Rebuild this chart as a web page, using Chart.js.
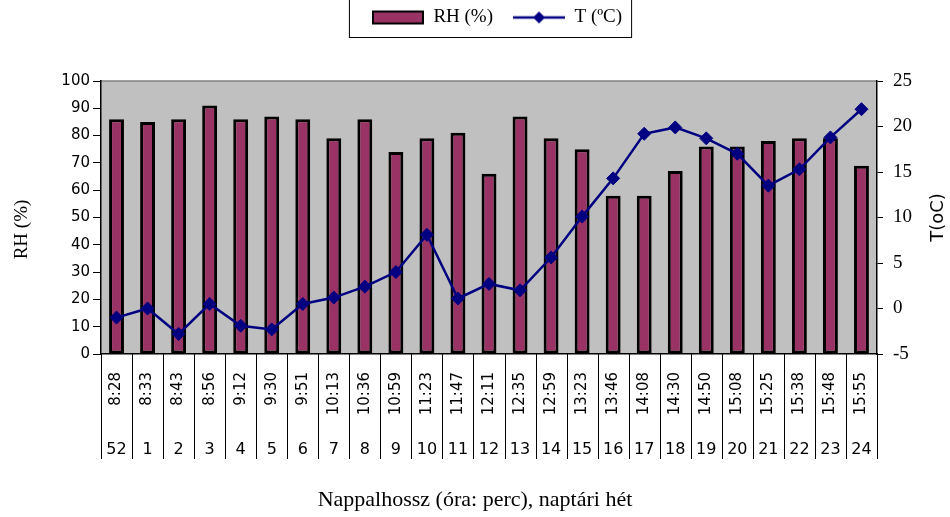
<!DOCTYPE html>
<html lang="hu">
<head>
<meta charset="UTF-8">
<title>RH és T</title>
<script src="https://cdn.jsdelivr.net/npm/chart.js"></script>
<style>
  html, body { margin: 0; padding: 0; background: #fff; }
  #wrap { width: 950px; height: 517px; }
</style>
</head>
<body>
<div id="wrap"><canvas id="rhChart"></canvas></div>
<script>
// napi nappalhossz (óra:perc) és naptári hét
const dayLength = ['8:28', '8:33', '8:43', '8:56', '9:12', '9:30', '9:51', '10:13', '10:36', '10:59',
    '11:23', '11:47', '12:11', '12:35', '12:59', '13:23', '13:46', '14:08', '14:30', '14:50',
    '15:08', '15:25', '15:38', '15:48', '15:55'];
const weeks = ['52', '1', '2', '3', '4', '5', '6', '7', '8', '9', '10', '11', '12', '13', '14', '15',
    '16', '17', '18', '19', '20', '21', '22', '23', '24'];
const rhValues = [86, 85, 86, 91, 86, 87, 86, 79, 86, 74, 79, 81, 66, 87, 79, 75, 58, 58, 67, 76,
    76, 78, 79, 79, 69];
const tempValues = [-1.0, 0.0, -2.8, 0.5, -1.9, -2.3, 0.5, 1.2, 2.4, 4.0, 8.1, 1.1, 2.7, 2.0, 5.6,
    10.1, 14.3, 19.2, 19.9, 18.7, 17.0, 13.5, 15.3, 18.8, 21.9];
const rhTicks = { min: 0, max: 100, step: 10 };
const tTicks = { min: -5, max: 25, step: 5 };

const barColor = '#993366';
const lineColor = '#000080';
const xTitle = 'Nappalhossz (óra: perc), naptári hét';

function makeSwatch(draw) {
    const c = document.createElement('canvas');
    c.width = 52;
    c.height = 16;
    draw(c.getContext('2d'));
    return c;
}
const rhSwatch = makeSwatch(ctx => {
    ctx.fillStyle = barColor;
    ctx.fillRect(1, 2, 50, 12);
    ctx.lineWidth = 2;
    ctx.strokeStyle = '#000';
    ctx.strokeRect(1, 2, 50, 12);
});
const tSwatch = makeSwatch(ctx => {
    ctx.strokeStyle = lineColor;
    ctx.lineWidth = 2.5;
    ctx.beginPath();
    ctx.moveTo(0, 8);
    ctx.lineTo(52, 8);
    ctx.stroke();
    ctx.fillStyle = lineColor;
    ctx.beginPath();
    ctx.moveTo(26, 2);
    ctx.lineTo(32, 8);
    ctx.lineTo(26, 14);
    ctx.lineTo(20, 8);
    ctx.closePath();
    ctx.fill();
});

// legend tall enough to push the plot down, plus a small shift
const legendSpacer = {
    id: 'legendSpacer',
    beforeInit(chart) {
        const fit = chart.legend.fit;
        chart.legend.fit = function () {
            fit.call(this);
            this.height = 81;
        };
    },
    afterLayout(chart) {
        const lg = chart.legend;
        lg.left += 22; lg.right += 22;
        lg.top -= 12; lg.bottom -= 12;
    }
};

function upText(ctx, text, x, y) {
    ctx.save();
    ctx.translate(x, y);
    ctx.rotate(-Math.PI / 2);
    ctx.fillText(text, 0, 0);
    ctx.restore();
}

const plotFrame = {
    id: 'plotFrame',
    beforeDraw(chart) {
        const { ctx, chartArea: a } = chart;
        ctx.save();
        ctx.fillStyle = '#c0c0c0';
        ctx.fillRect(a.left, a.top, a.width, a.height);
        ctx.strokeStyle = '#808080';
        ctx.lineWidth = 1.5;
        ctx.beginPath();
        ctx.moveTo(a.left, a.top);
        ctx.lineTo(a.right, a.top);
        ctx.stroke();
        ctx.restore();
    },
    afterDraw(chart) {
        const { ctx, chartArea: a, scales } = chart;
        ctx.save();
        // category dividers under the axis
        ctx.strokeStyle = '#000';
        ctx.lineWidth = 1;
        const yEnd = scales.week.top + 33;
        for (let i = 0; i <= dayLength.length; i++) {
            const x = Math.round(scales.x.getPixelForValue(i - 0.5)) + 0.5;
            ctx.beginPath();
            ctx.moveTo(x, a.bottom);
            ctx.lineTo(x, yEnd);
            ctx.stroke();
        }
        // legend frame
        const boxes = chart.legend.legendHitBoxes;
        if (boxes.length) {
            const first = boxes[0], last = boxes[boxes.length - 1];
            ctx.strokeRect(first.left - 22.5, -2, last.left + last.width - first.left + 32, 39.5);
        }
        // axis titles
        const midY = (a.top + a.bottom) / 2;
        ctx.fillStyle = '#000';
        ctx.textAlign = 'center';
        ctx.textBaseline = 'middle';
        ctx.font = '19px "Liberation Serif"';
        upText(ctx, 'RH (%)', scales.y.left + 22, midY + 12);
        ctx.font = '18px "DejaVu Sans"';
        upText(ctx, 'T(oC)', scales.y2.right - 12, midY);
        ctx.font = '22px "Liberation Serif"';
        ctx.fillText(xTitle, chart.width / 2, scales.week.bottom - 17);
        ctx.restore();
    }
};

new Chart(document.getElementById('rhChart'), {
    data: {
        labels: dayLength,
        datasets: [{
            type: 'bar',
            label: 'RH (%)',
            data: rhValues,
            yAxisID: 'y',
            backgroundColor: barColor,
            borderColor: '#000',
            borderWidth: 3,
            borderSkipped: false,
            barPercentage: 0.48,
            categoryPercentage: 1.0,
            order: 1
        }, {
            type: 'line',
            label: 'T (ºC)',
            data: tempValues,
            yAxisID: 'y2',
            borderColor: lineColor,
            borderWidth: 2.5,
            pointStyle: 'rectRot',
            pointRadius: 6.5,
            pointBackgroundColor: lineColor,
            pointBorderColor: lineColor,
            pointBorderWidth: 1,
            tension: 0,
            order: 0
        }]
    },
    options: {
        responsive: true,
        maintainAspectRatio: false,
        animation: false,
        devicePixelRatio: 1,
        layout: { padding: 0 },
        plugins: {
            tooltip: { enabled: false },
            legend: {
                position: 'top',
                onClick: null,
                labels: {
                    usePointStyle: true,
                    pointStyleWidth: 52,
                    padding: 20,
                    color: '#000',
                    font: { family: '"Liberation Serif"', size: 19 },
                    generateLabels: () => [
                        { text: 'RH (%)', pointStyle: rhSwatch, datasetIndex: 0, hidden: false, lineWidth: 0 },
                        { text: 'T (ºC)', pointStyle: tSwatch, datasetIndex: 1, hidden: false, lineWidth: 0 }
                    ]
                }
            }
        },
        scales: {
            x: {
                type: 'category',
                position: 'bottom',
                weight: 0,
                offset: true,
                grid: { display: false },
                border: { display: true, color: '#000', width: 1.5 },
                ticks: {
                    autoSkip: false,
                    minRotation: 90,
                    maxRotation: 90,
                    padding: 10,
                    color: '#000',
                    font: { family: '"DejaVu Sans"', size: 15 }
                },
                afterFit: s => { s.height = 72; }
            },
            week: {
                type: 'category',
                position: 'bottom',
                weight: 1,
                labels: weeks,
                offset: true,
                grid: { display: false },
                border: { display: false },
                ticks: {
                    autoSkip: false,
                    maxRotation: 0,
                    padding: 6,
                    color: '#000',
                    font: { family: '"DejaVu Sans"', size: 16 }
                },
                afterFit: s => { s.height = 91; }
            },
            y: {
                position: 'left',
                min: rhTicks.min,
                max: rhTicks.max,
                ticks: {
                    stepSize: rhTicks.step,
                    padding: 3,
                    color: '#000',
                    font: { family: '"DejaVu Sans"', size: 15 }
                },
                grid: { drawOnChartArea: false, tickLength: 8, color: '#000' },
                border: { display: true, color: '#000', width: 1.5 },
                afterFit: s => { s.width = 101; }
            },
            y2: {
                position: 'right',
                min: tTicks.min,
                max: tTicks.max,
                ticks: {
                    stepSize: tTicks.step,
                    padding: 10,
                    color: '#000',
                    font: { family: '"Liberation Serif"', size: 19 }
                },
                grid: { drawOnChartArea: false, tickLength: 6, color: '#000' },
                border: { display: true, color: '#000', width: 1.5 },
                afterFit: s => { s.width = 73; }
            }
        }
    },
    plugins: [legendSpacer, plotFrame]
});
</script>
</body>
</html>
